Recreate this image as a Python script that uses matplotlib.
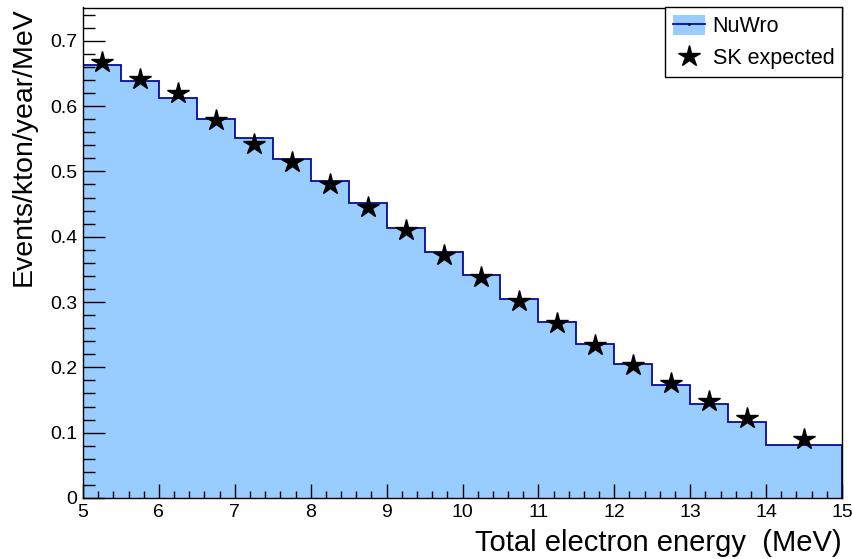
import matplotlib
matplotlib.use("Agg")
import matplotlib.pyplot as plt
from matplotlib.patches import Patch
from matplotlib.lines import Line2D
from matplotlib.ticker import MultipleLocator
import numpy as np

plt.rcParams['font.family'] = ['Liberation Sans', 'DejaVu Sans']

# ---- data ----
bin_edges = [5.0, 5.5, 6.0, 6.5, 7.0, 7.5, 8.0, 8.5, 9.0, 9.5, 10.0,
             10.5, 11.0, 11.5, 12.0, 12.5, 13.0, 13.5, 14.0, 15.0]
nuwro = [0.663, 0.638, 0.613, 0.581, 0.551, 0.519, 0.486, 0.451, 0.414, 0.376,
         0.341, 0.305, 0.270, 0.236, 0.205, 0.173, 0.144, 0.117, 0.081]
sk_x = [5.25, 5.75, 6.25, 6.75, 7.25, 7.75, 8.25, 8.75, 9.25, 9.75,
        10.25, 10.75, 11.25, 11.75, 12.25, 12.75, 13.25, 13.75, 14.5]
sk_y = [0.668, 0.641, 0.620, 0.578, 0.542, 0.514, 0.480, 0.446, 0.410, 0.372,
        0.338, 0.302, 0.268, 0.235, 0.204, 0.176, 0.148, 0.123, 0.091]

x_label = "Total electron energy  (MeV)"
y_label = "Events/kton/year/MeV"
legend_labels = ["NuWro", "SK expected"]

fill_color = "#99ccff"
line_color = "#0a0a9e"

fig = plt.figure(figsize=(8.53, 5.59), dpi=100)
ax = fig.add_axes([83/853, 1 - 498/559, (842-83)/853, (498-7.5)/559])

ax.stairs(nuwro, bin_edges, fill=True, color=fill_color, zorder=1)
ax.stairs(nuwro, bin_edges, fill=False, color=line_color, linewidth=1.3, zorder=2)
ax.plot(sk_x, sk_y, linestyle='none', marker='*', markersize=16,
        color='black', zorder=3)

ax.set_xlim(5, 15)
ax.set_ylim(0, 0.751)

ax.xaxis.set_major_locator(MultipleLocator(1))
ax.xaxis.set_minor_locator(MultipleLocator(0.2))
ax.yaxis.set_major_locator(MultipleLocator(0.1))
ax.yaxis.set_minor_locator(MultipleLocator(0.02))

ax.tick_params(axis='both', which='both', direction='in', top=False, right=False,
               width=1, color='black', labelsize=14)
ax.tick_params(axis='x', which='major', length=10, pad=4)
ax.tick_params(axis='x', which='minor', length=5)
ax.tick_params(axis='y', which='major', length=16, pad=4)
ax.tick_params(axis='y', which='minor', length=8.5)

ax.yaxis.set_major_formatter(matplotlib.ticker.FuncFormatter(
    lambda v, p: "0" if abs(v) < 1e-9 else ("%.1f" % v)))

for s in ax.spines.values():
    s.set_linewidth(1)
    s.set_color('black')
    s.set_zorder(5)

ax.set_xlabel(x_label, fontsize=21, loc='right', labelpad=6)
ax.set_ylabel(y_label, fontsize=20.5, loc='top', labelpad=10)

h1 = (Patch(facecolor=fill_color, edgecolor='none'),
      Line2D([], [], color=line_color, linewidth=1.3, marker='.', markersize=2,
             markerfacecolor='black', markeredgecolor='black'))
h2 = Line2D([], [], linestyle='none', marker='*', markersize=16, color='black')
leg = ax.legend([h1, h2], legend_labels, loc='upper right', fontsize=15.5,
                frameon=True, fancybox=False, edgecolor='black', framealpha=1,
                borderaxespad=0, borderpad=0.35, labelspacing=0.45,
                handlelength=1.5, handleheight=1.05, handletextpad=0.35)
leg.get_frame().set_linewidth(1)

fig.savefig("out.png", dpi=100)
